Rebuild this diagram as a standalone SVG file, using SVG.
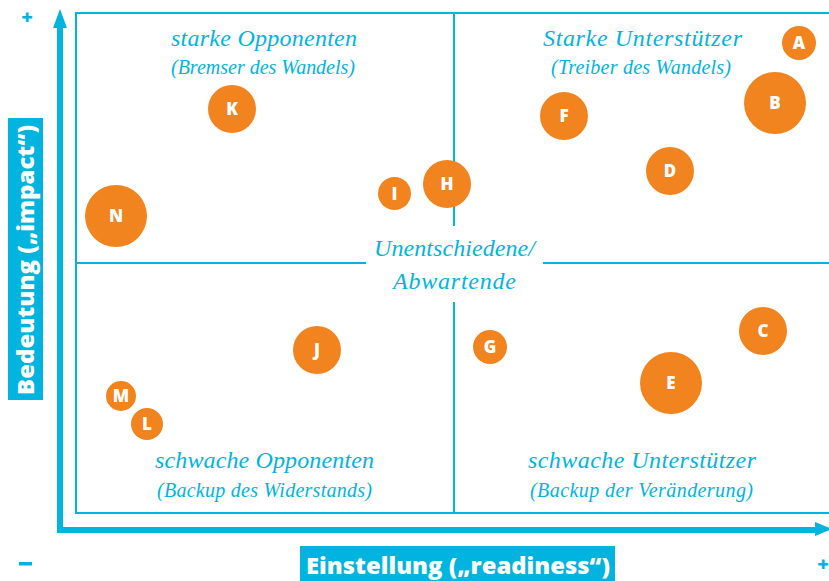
<svg xmlns="http://www.w3.org/2000/svg" width="829" height="581" viewBox="0 0 829 581">
  <defs>
    <style>
      .ax { fill: #00B4DF; }
      .grid { fill: none; stroke: #00B4DF; stroke-width: 2; }
      .title { font-family: "Liberation Serif", serif; font-style: italic; font-size: 24px; fill: #00B4DF; text-anchor: middle; }
      .sub { font-family: "Liberation Serif", serif; font-style: italic; font-size: 20px; fill: #00B4DF; text-anchor: middle; }
      .axlbl { font-family: "Open Sans", "DejaVu Sans", sans-serif; font-weight: 800; font-size: 22px; fill: #ffffff; text-anchor: middle; }
      .sign { font-family: "Open Sans", "DejaVu Sans", sans-serif; font-weight: 800; font-size: 20px; fill: #00B4DF; text-anchor: middle; }
      .dot { fill: #F1841F; }
      .ltr { font-family: "Open Sans", "DejaVu Sans", sans-serif; font-weight: 800; font-size: 17px; fill: #ffffff; text-anchor: middle; }
    </style>
  </defs>

  <rect width="829" height="581" fill="#ffffff"/>

  <!-- axes with arrowheads -->
  <g id="axes">
    <rect class="ax" x="57" y="26" width="6" height="507"/>
    <polygon class="ax" points="53,28 67,28 60,9"/>
    <rect class="ax" x="57" y="527" width="760" height="6"/>
    <polygon class="ax" points="815,522 815,536 832,529"/>
    <rect class="ax" x="8" y="118" width="35" height="282"/>
    <text class="axlbl" transform="translate(33.5,260) rotate(-90)" textLength="270" lengthAdjust="spacingAndGlyphs">Bedeutung („impact“)</text>
    <rect class="ax" x="300" y="546" width="315" height="40"/>
    <text class="axlbl" x="458" y="574" textLength="304" lengthAdjust="spacingAndGlyphs">Einstellung („readiness“)</text>
    <text class="sign" x="27" y="24">+</text>
    <rect class="ax" x="19" y="562" width="13" height="3.5"/>
    <text class="sign" x="823" y="571">+</text>
  </g>

  <!-- quadrant grid -->
  <g id="connectors">
    <rect class="grid" x="76" y="13" width="800" height="500"/>
    <line class="grid" x1="454" y1="13" x2="454" y2="226"/>
    <line class="grid" x1="454" y1="302" x2="454" y2="513"/>
    <line class="grid" x1="76" y1="263" x2="366" y2="263"/>
    <line class="grid" x1="543" y1="263" x2="829" y2="263"/>
  </g>

  <!-- quadrant labels -->
  <g id="q-strong-opp">
    <text class="title" x="264" y="46" textLength="186">starke Opponenten</text>
    <text class="sub" x="263" y="74" textLength="184">(Bremser des Wandels)</text>
  </g>
  <g id="q-strong-sup">
    <text class="title" x="642.5" y="46" textLength="199">Starke Unterstützer</text>
    <text class="sub" x="641" y="74" textLength="180">(Treiber des Wandels)</text>
  </g>
  <g id="q-undecided">
    <text class="title" x="454.5" y="256" textLength="161">Unentschiedene/</text>
    <text class="title" x="454.5" y="289" textLength="123">Abwartende</text>
  </g>
  <g id="q-weak-opp">
    <text class="title" x="264.5" y="468" textLength="219">schwache Opponenten</text>
    <text class="sub" x="264.5" y="497" textLength="215">(Backup des Widerstands)</text>
  </g>
  <g id="q-weak-sup">
    <text class="title" x="642" y="468" textLength="228">schwache Unterstützer</text>
    <text class="sub" x="641.5" y="497" textLength="223">(Backup der Veränderung)</text>
  </g>

  <!-- stakeholders -->
  <g id="A"><circle class="dot" cx="799" cy="43" r="17"/><text class="ltr" x="799" y="49">A</text></g>
  <g id="B"><circle class="dot" cx="775" cy="103" r="31"/><text class="ltr" x="775" y="109">B</text></g>
  <g id="C"><circle class="dot" cx="763" cy="331" r="24"/><text class="ltr" x="763" y="337">C</text></g>
  <g id="D"><circle class="dot" cx="670" cy="171" r="24"/><text class="ltr" x="670" y="177">D</text></g>
  <g id="E"><circle class="dot" cx="671" cy="383" r="31"/><text class="ltr" x="671" y="389">E</text></g>
  <g id="F"><circle class="dot" cx="564" cy="116" r="24"/><text class="ltr" x="564" y="122">F</text></g>
  <g id="G"><circle class="dot" cx="490" cy="347" r="17"/><text class="ltr" x="490" y="353">G</text></g>
  <g id="H"><circle class="dot" cx="447" cy="184" r="24"/><text class="ltr" x="447" y="190">H</text></g>
  <g id="I"><circle class="dot" cx="394.5" cy="193.5" r="16.5"/><text class="ltr" x="394.5" y="199.5">I</text></g>
  <g id="J"><circle class="dot" cx="317" cy="350" r="24"/><text class="ltr" x="317" y="356">J</text></g>
  <g id="K"><circle class="dot" cx="232" cy="109" r="24"/><text class="ltr" x="232" y="115">K</text></g>
  <g id="L"><circle class="dot" cx="147" cy="424" r="16"/><text class="ltr" x="147" y="430">L</text></g>
  <g id="M"><circle class="dot" cx="121" cy="396" r="15"/><text class="ltr" x="121" y="402">M</text></g>
  <g id="N"><circle class="dot" cx="116" cy="216" r="31"/><text class="ltr" x="116" y="222">N</text></g>
</svg>
